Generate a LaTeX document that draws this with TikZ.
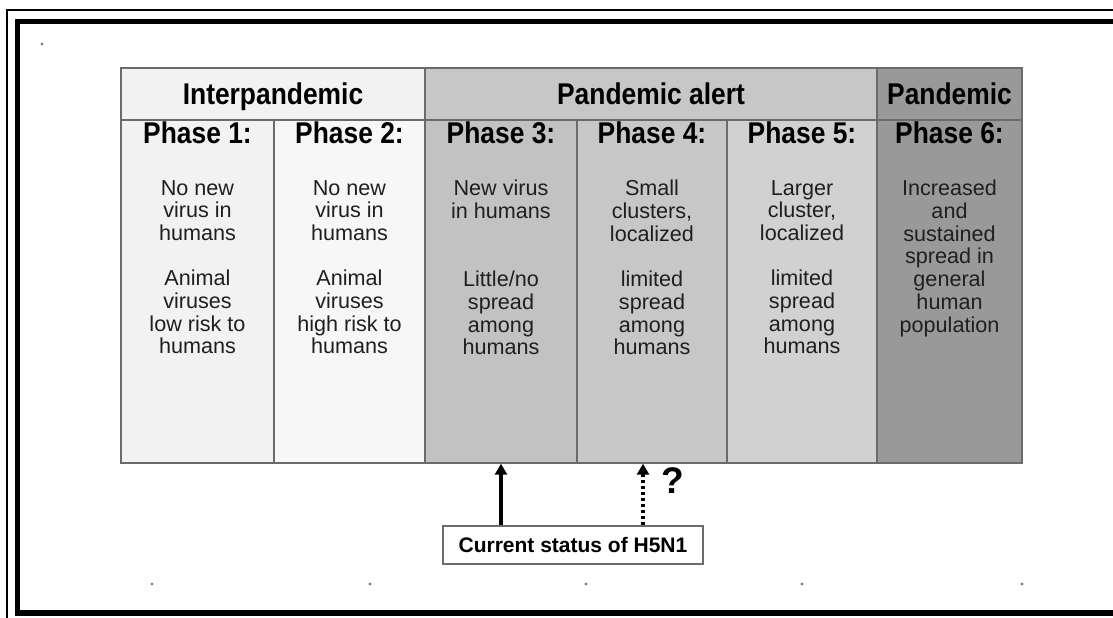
\documentclass[tikz,border=0pt]{standalone}
\usepackage{fontspec}
\setmainfont{Liberation Sans}
\newfontfamily\condfont[FakeStretch=0.88]{Liberation Sans}
\usetikzlibrary{arrows.meta}
\definecolor{interfill}{gray}{0.95}
\definecolor{alertfill}{gray}{0.78}
\definecolor{pandfill}{gray}{0.60}
\definecolor{gridline}{gray}{0.42}
\definecolor{bodyink}{gray}{0.12}
\tikzset{
  cell/.style={draw=gridline,line width=1.4pt,inner sep=0pt,minimum height=343pt},
  headcell/.style={draw=gridline,line width=1.4pt,inner sep=0pt,minimum height=52pt},
  headtext/.style={font=\condfont\bfseries\fontsize{30}{30}\selectfont,inner sep=0pt,anchor=base},
  bodytext/.style={font=\fontsize{21.6}{22.7}\selectfont,text=bodyink,align=center,inner sep=0pt,anchor=north},
  curarrow/.style={line width=3.2pt,-{Triangle[length=11pt,width=12pt]}},
  maybearrow/.style={curarrow,dash pattern=on 3pt off 3pt}
}
\begin{document}
\begin{tikzpicture}[x=1pt,y=-1pt]
  \useasboundingbox (0,0) rectangle (1113,618);
  % scanned page frame
  \draw[line width=2pt] (1113,10)--(7,10)--(7,618);
  \draw[line width=5.5pt] (1113,21.5)--(17.5,21.5)--(17.5,613)--(1113,613);
  \foreach \p in {(42,44),(131,428),(152,584),(370,584),(586,584),(802,584),(1022,584)}
    \fill[gray] \p circle (1.6);
  % header row
  \node[headcell,fill=interfill,minimum width=304pt] (hinter) at (273,94) {};
  \node[headcell,fill=alertfill,minimum width=452pt] (halert) at (651,94) {};
  \node[headcell,fill=pandfill,minimum width=145pt] (hpand) at (949.5,94) {};
  \path (hinter.center |- 0,104) node[headtext]{Interpandemic}
        (halert.center |- 0,104) node[headtext]{Pandemic alert}
        (hpand.center |- 0,104) node[headtext]{Pandemic};
  % phase columns
  \foreach \n/\xa/\xb/\g in {1/121/274/0.95,2/274/425/0.97,3/425/577/0.76,4/577/727/0.78,5/727/877/0.82,6/877/1022/0.60}{
    \node[cell,fill={rgb,1:red,\g;green,\g;blue,\g},minimum width=\xb-\xa] (ph\n) at ({(\xa+\xb)/2},291.5) {};
    \node[headtext] at ([yshift=-24pt]ph\n.north) {Phase \n:};
  }
  \node[bodytext] at (ph1.center |- 0,180) {No new\\virus in\\humans\\[22.7pt]Animal\\viruses\\low risk to\\humans};
  \node[bodytext] at (ph2.center |- 0,180) {No new\\virus in\\humans\\[22.7pt]Animal\\viruses\\high risk to\\humans};
  \node[bodytext] at (ph3.center |- 0,180) {New virus\\in humans\\[45.4pt]Little/no\\spread\\among\\humans};
  \node[bodytext] at (ph4.center |- 0,180) {Small\\clusters,\\localized\\[22.7pt]limited\\spread\\among\\humans};
  \node[bodytext] at (ph5.center |- 0,180) {Larger\\cluster,\\localized\\[22.7pt]limited\\spread\\among\\humans};
  \node[bodytext] at (ph6.center |- 0,180) {Increased\\and\\sustained\\spread in\\general\\human\\population};
  % where H5N1 stands
  \node[draw=gridline,line width=1.4pt,fill=white,minimum width=260pt,minimum height=38pt,
        font=\bfseries\fontsize{21}{21}\selectfont] (status) at (573,545) {Current status of H5N1};
  \draw[curarrow] (status.north -| ph3.south) -- (ph3.south);
  \draw[maybearrow] (status.north -| 643,0) -- (ph4.south -| 643,0);
  \node[font=\bfseries\fontsize{37}{37}\selectfont,inner sep=0pt] (qmark) at (673,481) {?};
\end{tikzpicture}
\end{document}
